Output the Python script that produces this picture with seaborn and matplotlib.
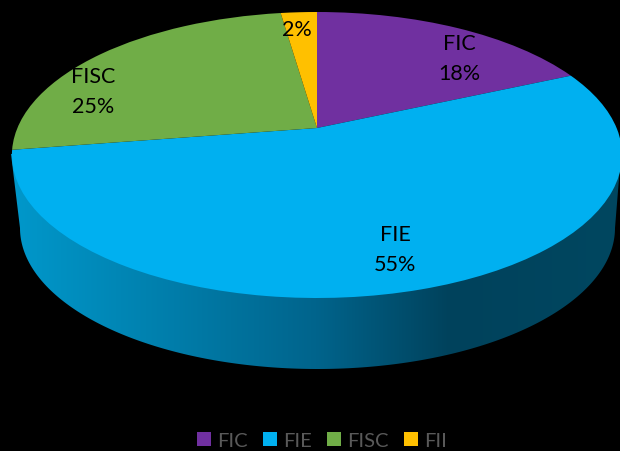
import numpy as np
import matplotlib
matplotlib.use("Agg")
import matplotlib.pyplot as plt
from matplotlib.colors import LinearSegmentedColormap
from matplotlib.patches import Polygon
from matplotlib.transforms import Transform
import seaborn as sns

# Values
categories = ["FIC", "FIE", "FISC", "FII"]
shares = [18.3, 54.25, 25.15, 2.3]  # slice sizes as drawn
printed = [18, 55, 25, 2]  # percentages as labelled
colors = ["#7030A0", "#00B0F0", "#70AD47", "#FFC000"]
wall_stops = [(0, "#0098CB"), (0.22, "#0082B0"), (0.5, "#00648C"), (0.72, "#00425C"), (1, "#004760")]

sns.set_theme(style="white")
plt.rcParams["font.family"] = ["Lato", "DejaVu Sans"]


class Tilt(Transform):
    # tilts the flat unit pie into the picture, in pixels
    input_dims = 2
    output_dims = 2
    is_affine = False
    has_inverse = False

    def transform_non_affine(self, values):
        values = np.asarray(values)
        d = 1 + 0.1888 * values[:, 1]
        return np.column_stack([317 + 299.6 * values[:, 0] / d, 129 - 137.9 * values[:, 1] / d])


fig, ax = plt.subplots(figsize=(6.2, 4.52), dpi=100)
fig.patch.set_facecolor("black")
ax.set_position([0, 0, 1, 1])

wedges, _ = ax.pie(shares, colors=colors, startangle=90, counterclock=False,
                   wedgeprops={"transform": Tilt() + ax.transData, "zorder": 3,
                               "edgecolor": "none", "linewidth": 0})

# Side wall of the pie, shaded left to right
t = np.radians(np.linspace(0, 180, 200))
wall_x = 317.5 + 297.5 * np.cos(t)
wall_y = 229 + 141 * np.sin(t)
wall = Polygon(np.vstack([[[621, 155]], np.column_stack([wall_x, wall_y]), [[11, 155]]]),
               closed=True, facecolor="none", edgecolor="none")
ax.add_patch(wall)
cmap = LinearSegmentedColormap.from_list("wall", wall_stops)
im = ax.imshow(np.linspace(0, 1, 256)[None, :], extent=[11, 621, 371, 150], cmap=cmap,
               aspect="auto", zorder=2)
im.set_clip_path(wall)

ax.set_aspect("auto")
ax.set_xlim(0, 620)
ax.set_ylim(452, 0)
ax.set_facecolor("black")
ax.axis("off")

# Slice labels
label_pos = [(459, 59), (395, 250), (93, 92), (297, 30)]
for i, (x, y) in enumerate(label_pos):
    pct = f"{printed[i]}%"
    txt = pct if categories[i] == "FII" else f"{categories[i]}\n{pct}"
    ax.text(x, y, txt, ha="center", va="center", fontsize=15.5, color="black",
            linespacing=1.6, zorder=5)

leg = ax.legend(wedges, categories, ncol=4, loc="lower center", bbox_to_anchor=(0.519, -0.036),
                frameon=False, fontsize=14.5, labelcolor="#595959", handlelength=0.7,
                handleheight=0.7, handletextpad=0.3, columnspacing=0.75)

plt.savefig("out.png", dpi=100, facecolor="black")
